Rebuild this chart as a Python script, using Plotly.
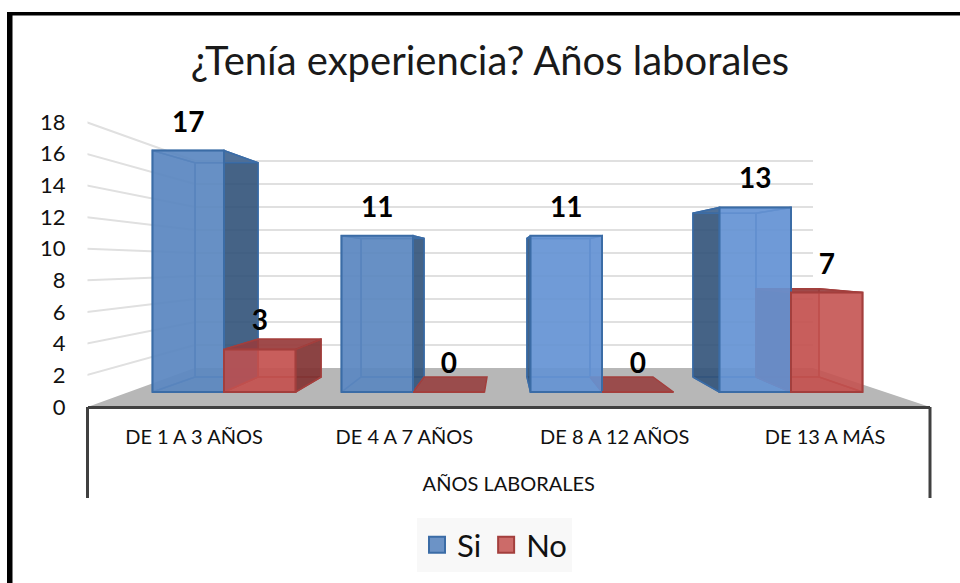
import plotly.graph_objects as go

# ---- data ----
categories = ["DE 1 A 3 AÑOS", "DE 4 A 7 AÑOS", "DE 8 A 12 AÑOS", "DE 13 A MÁS"]
si_values = [17, 11, 11, 13]
no_values = [3, 0, 0, 7]
y_ticks = [0, 2, 4, 6, 8, 10, 12, 14, 16, 18]
title_text = "¿Tenía experiencia? Años laborales"
axis_title = "AÑOS LABORALES"

# ---- projection of the 3-D look onto the page ----
W, H = 960, 583
FONT = "Lato"
AX_L, AX_R, AX_Y = 87.5, 930.0, 407.0
CAT0, CAT_STEP = 194.0, 210.33


def ux(px):
    return (px - CAT0) / CAT_STEP


UNIT_W = CAT_STEP
FRONT_BASE, FRONT_SCALE = 392.0, 14.2
BACK_BASE, BACK_SCALE = 377.0, 12.6
AXIS_SCALE = 15.83
WALL_BASE, WALL_SCALE = 368.0, 11.5
WALL_L, WALL_R = 195.0, 813.0
FRONT_X0, FRONT_STEP, FRONT_W = 152.5, 189.0, 71.5
BACK_X0, BACK_STEP, BACK_W = 195.0, 166.0, 63.0


def back_v(v):
    """value (front scale) of a point at the back of a bar"""
    return (FRONT_BASE - (BACK_BASE - BACK_SCALE * v)) / FRONT_SCALE


def wall_v(t):
    """gridline level on the back wall, expressed on the tick axis"""
    return (AX_Y - (WALL_BASE - WALL_SCALE * t)) / AXIS_SCALE


y1_range = [-(H - AX_Y) / AXIS_SCALE, AX_Y / AXIS_SCALE]
y2_range = [-(H - FRONT_BASE) / FRONT_SCALE, FRONT_BASE / FRONT_SCALE]

BLUE = dict(face="rgba(92,135,192,0.90)", line="#3b6ca6",
            back="rgba(88,135,196,0.30)", top="rgba(88,135,196,0.30)",
            dark="rgba(50,82,120,0.88)",
            inner="rgba(110,155,215,0.45)", outer_inner="rgba(110,155,215,0.45)")
RED = dict(face="rgba(196,82,80,0.85)", line="#a33f3d",
           back="rgba(196,90,88,0.55)", top="rgba(150,62,62,0.88)",
           dark="rgba(125,50,50,0.85)",
           inner="rgba(70,80,130,0.60)", outer_inner="rgba(200,100,98,0.35)")
BLUE_FACES = ["rgba(92,135,192,0.90)", "rgba(92,135,192,0.90)",
              "rgba(102,148,212,0.90)", "rgba(102,148,212,0.90)"]

fig = go.Figure()


def poly(xs, ys, fill, line, yaxis, width=1.5):
    fig.add_trace(go.Scatter(
        x=[ux(p) for p in xs] + [ux(xs[0])], y=list(ys) + [ys[0]], mode="lines",
        fill="toself", fillcolor=fill, line=dict(color=line, width=width),
        yaxis=yaxis, showlegend=False, hoverinfo="skip"))


# floor
fig.add_trace(go.Scatter(
    x=[ux(AX_L), ux(WALL_L), ux(WALL_R), ux(AX_R), ux(AX_L)],
    y=[0, wall_v(0), wall_v(0), 0, 0], mode="lines", fill="toself",
    fillcolor="#b7b7b7", line=dict(width=0), showlegend=False, hoverinfo="skip"))

# gridlines: along the side wall, then along the back wall
for t in y_ticks[1:]:
    fig.add_trace(go.Scatter(
        x=[ux(86), ux(WALL_L), ux(WALL_R)], y=[t, wall_v(t), wall_v(t)],
        mode="lines", line=dict(color="#e0e0e0", width=2),
        showlegend=False, hoverinfo="skip"))


def box_faces(v, fl, fr, bl, br, st, yaxis):
    b0, bt = back_v(0), back_v(v)
    if v == 0:
        poly([fl, fr, br, bl], [0, 0, b0, b0], st["top"], st["line"], yaxis)
        return
    poly([bl, br, br, bl], [b0, b0, bt, bt], st["back"], st["line"], yaxis)
    poly([fl, fr, br, bl], [0, 0, b0, b0], st["back"], st["line"], yaxis)
    poly([fl, bl, bl, fl], [0, b0, bt, v],
         st["dark"] if bl < fl else st["inner"], st["line"], yaxis)
    poly([fr, br, br, fr], [0, b0, bt, v],
         st["dark"] if br > fr else st["outer_inner"], st["line"], yaxis)
    poly([fl, fr, br, bl], [v, v, bt, bt], st["top"], st["line"], yaxis)


si_x, no_x = [], []
for i in range(len(categories)):
    fl = FRONT_X0 + FRONT_STEP * i
    bl = BACK_X0 + BACK_STEP * i
    si_x.append(ux(fl + FRONT_W / 2))
    no_x.append(ux(fl + FRONT_W * 1.5))
    box_faces(si_values[i], fl, fl + FRONT_W, bl, bl + BACK_W, BLUE, "y2")

for i in range(len(categories)):
    fl = FRONT_X0 + FRONT_STEP * i + FRONT_W
    bl = BACK_X0 + BACK_STEP * i + BACK_W
    box_faces(no_values[i], fl, fl + FRONT_W, bl, bl + BACK_W, RED, "y2")

fig.add_trace(go.Bar(x=si_x, y=si_values, width=FRONT_W / UNIT_W, yaxis="y3",
                     marker=dict(color=BLUE_FACES, line=dict(color=BLUE["line"], width=2)),
                     showlegend=False, hoverinfo="skip"))

fig.add_trace(go.Bar(x=no_x, y=no_values, width=FRONT_W / UNIT_W, yaxis="y4",
                     marker=dict(color=RED["face"], line=dict(color=RED["line"], width=2)),
                     showlegend=False, hoverinfo="skip"))

# value labels
LABEL_GAP = 26 / FRONT_SCALE
fig.add_trace(go.Scatter(
    x=si_x + no_x, y=[v + LABEL_GAP for v in si_values + no_values],
    text=[str(v) for v in si_values + no_values], mode="text", yaxis="y4",
    textposition="middle center",
    textfont=dict(family=FONT, size=28, color="#000000", weight="bold"),
    showlegend=False, hoverinfo="skip"))

# legend entries
for name, st in (("Si", BLUE), ("No", RED)):
    fig.add_trace(go.Scatter(
        x=[None], y=[None], name=name, mode="markers",
        marker=dict(symbol="square", size=18, color=st["face"], line=dict(color=st["line"], width=2))))

extra_y = dict(overlaying="y", range=y2_range, visible=False, fixedrange=True)

fig.update_layout(
    width=W, height=H, autosize=False,
    margin=dict(l=0, r=0, t=0, b=0),
    paper_bgcolor="white", plot_bgcolor="rgba(0,0,0,0)",
    font=dict(family=FONT, color="#1a1a1a"),
    barmode="overlay",
    title=dict(text=title_text, x=490 / W, xanchor="center", xref="paper",
               y=1 - 61 / H, yanchor="middle", yref="paper",
               font=dict(family=FONT, size=40, color="#1a1a1a")),
    xaxis=dict(domain=[AX_L / W, AX_R / W], range=[ux(AX_L), ux(AX_R)],
               anchor="free", position=(H - AX_Y) / H,
               tickmode="array", tickvals=list(range(len(categories))), ticktext=categories,
               tickfont=dict(family=FONT, size=20, color="#111111"),
               ticks="outside", ticklen=11, tickcolor="rgba(0,0,0,0)",
               showline=True, linecolor="#404040", linewidth=3, showgrid=False, zeroline=False,
               title=dict(text=axis_title, standoff=29,
                          font=dict(family=FONT, size=20, color="#111111"))),
    yaxis=dict(range=y1_range, anchor="free", position=85 / W, domain=[0, 1],
               tickmode="array", tickvals=y_ticks, ticks="outside", ticklen=15,
               tickcolor="rgba(0,0,0,0)", showgrid=False, zeroline=False, showline=False,
               tickfont=dict(family=FONT, size=22, color="#111111")),
    yaxis2=dict(**extra_y), yaxis3=dict(**extra_y), yaxis4=dict(**extra_y),
    legend=dict(orientation="h", x=417 / W, y=1 - 518 / H, xanchor="left", yanchor="top",
                bgcolor="#f8f8f8", font=dict(family=FONT, size=31, color="#111111"),
                itemwidth=30, traceorder="normal"),
    shapes=[
        dict(type="rect", xref="paper", yref="paper", x0=7 / W, x1=12.5 / W, y0=0, y1=1 - 12 / H,
             fillcolor="#000", line=dict(width=0), layer="above"),
        dict(type="rect", xref="paper", yref="paper", x0=7 / W, x1=1, y0=1 - 15.5 / H, y1=1 - 12 / H,
             fillcolor="#000", line=dict(width=0), layer="above"),
        dict(type="line", xref="paper", yref="paper", x0=AX_L / W, x1=AX_L / W,
             y0=1 - 498 / H, y1=1 - AX_Y / H, line=dict(color="#404040", width=3)),
        dict(type="line", xref="paper", yref="paper", x0=AX_R / W, x1=AX_R / W,
             y0=1 - 498 / H, y1=1 - AX_Y / H, line=dict(color="#404040", width=3)),
    ],
)

fig.write_html("out.html", config={"displayModeBar": False},
               post_script="document.body.style.margin='0';")
